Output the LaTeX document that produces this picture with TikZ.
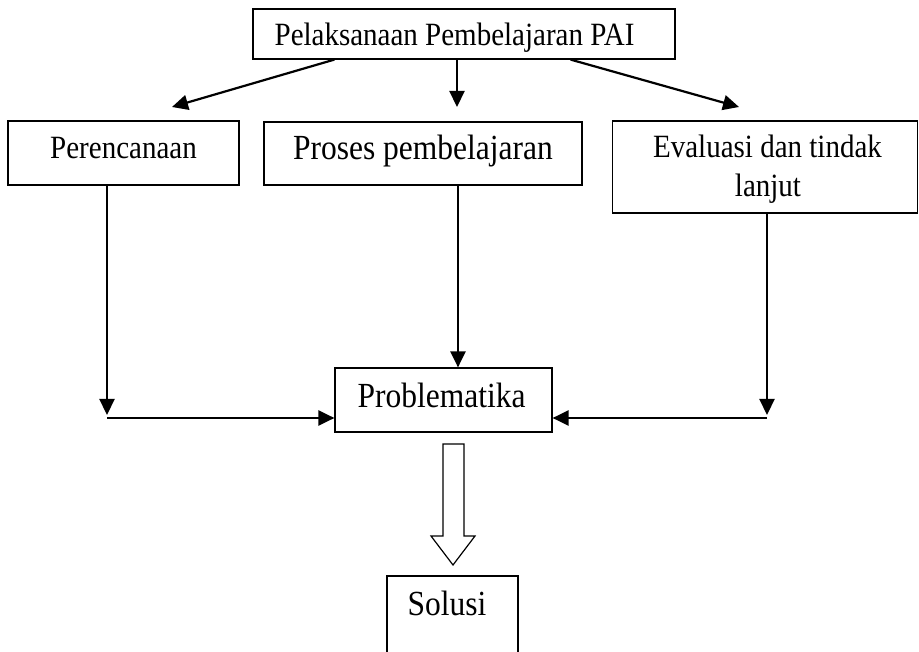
\documentclass[tikz,border=0pt]{standalone}
\usepackage{fontspec}
\usepackage{graphicx}
\setmainfont{Liberation Serif}
\usetikzlibrary{arrows.meta,calc}
\newcommand{\tallt}[1]{\scalebox{1}[1.12]{#1}}
\begin{document}
\begin{tikzpicture}[x=1pt,y=-1pt,
  box/.style={draw,line width=1.2pt,inner sep=0pt,rectangle},
  lbl/.style={anchor=base,inner sep=0pt,font=\fontsize{29}{35}\selectfont},
  lblb/.style={anchor=base,inner sep=0pt,font=\fontsize{31.5}{37}\selectfont},
  arr/.style={line width=2.2pt,-{Triangle[length=16pt,width=15pt]}},
  link/.style={line width=2.2pt}]
\useasboundingbox (0,0) rectangle (919,652);
\clip (0,0) rectangle (919,652);
% boxes
\node[box,minimum width=422pt,minimum height=50pt] (top) at (464,34) {};
\node[box,minimum width=231pt,minimum height=64pt] (per) at (123.5,153) {};
\node[box,minimum width=318pt,minimum height=63pt] (pro) at (423,153.5) {};
\node[box,minimum width=305pt,minimum height=92pt] (eva) at (764.8,167) {};
\node[box,minimum width=217pt,minimum height=64pt] (prob) at (443.5,400) {};
\node[box,minimum width=131pt,minimum height=108pt] (sol) at (452.5,630) {};
% texts
\node[lbl] (ttop) at (454.5,46) {\tallt{Pelaksanaan Pembelajaran PAI}};
\node[lbl] (tper) at (123.5,159) {\tallt{Perencanaan}};
\node[lblb] (tpro) at (423,160) {\tallt{Proses pembelajaran}};
\node[lbl] (teva1) at (767.5,158) {\tallt{Evaluasi dan tindak}};
\node[lbl] (teva2) at (768,197) {\tallt{lanjut}};
\node[lblb] (tprob) at (441.5,407) {\tallt{Problematika}};
\node[lblb] (tsol) at (447,615) {\tallt{Solusi}};
% coordinates
\coordinate (tA) at (172,107);
\coordinate (tB) at (457,107);
\coordinate (tC) at (739,107);
\coordinate (c1) at (107,418);
\coordinate (c2) at (767,418);
\coordinate (c3) at (458,300);
% connectors from top
\draw[arr] ([xshift=82pt]top.south west) -- (tA);
\draw[arr] (top.south -| tB) -- (tB);
\draw[arr] ([xshift=-105pt]top.south east) -- (tC);
% to problematika
\draw[arr] (per.south -| c1) -- ([yshift=3pt]c1);
\draw[arr] (c1) -- (prob.west |- c1);
\draw[arr] (pro.south -| c3) -- (prob.north -| c3);
\draw[arr] (eva.south -| c2) -- ([yshift=3pt]c2);
\draw[arr] (c2) -- (prob.east |- c2);
% hollow arrow
\draw[line width=1.2pt,line join=miter] (443,444) -- (464,444) -- (464,536) -- (475,536) -- (453,565) -- (431,536) -- (443,536) -- cycle;
\end{tikzpicture}
\end{document}
